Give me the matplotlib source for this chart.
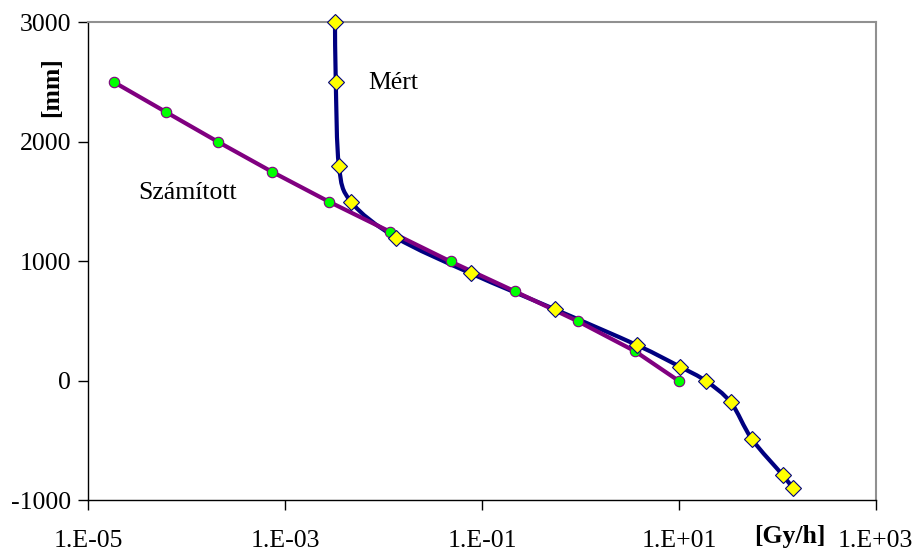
import numpy as np
import matplotlib.pyplot as plt
from matplotlib.path import Path
from matplotlib.patches import PathPatch

plt.rcParams['font.family'] = ['Liberation Serif', 'DejaVu Serif']
plt.rcParams['axes.unicode_minus'] = False

# measured (Mért)
mert_dose = [0.00322, 0.00328, 0.00353, 0.00468, 0.0134, 0.0773, 0.55, 3.75,
             10.2, 18.8, 33.7, 55, 114, 143]
mert_depth = [3000, 2500, 1800, 1500, 1200, 900, 600, 300,
              120, 0, -180, -485, -790, -895]

# calculated (Számított)
szam_dose = [1.84e-5, 6.2e-5, 2.1e-4, 7.4e-4, 2.8e-3, 0.0116, 0.048,
             0.216, 0.94, 3.57, 10.0]
szam_depth = [2500, 2250, 2000, 1750, 1500, 1250, 1000, 750, 500, 250, 0]

xticks = [1e-5, 1e-3, 1e-1, 1e1, 1e3]
xticklabels = ['1.E-05', '1.E-03', '1.E-01', '1.E+01', '1.E+03']
yticks = [-1000, 0, 1000, 2000, 3000]


def smooth_path(xs, ys):
    # Catmull-Rom style bezier (like Excel smoothed line), built in log-x space
    lx = np.log10(xs)
    y = np.array(ys, dtype=float)
    n = len(lx)
    verts = [(xs[0], ys[0])]
    codes = [Path.MOVETO]
    for i in range(n - 1):
        p0 = max(i - 1, 0)
        p3 = min(i + 2, n - 1)
        c1x = lx[i] + (lx[i + 1] - lx[p0]) / 6
        c1y = y[i] + (y[i + 1] - y[p0]) / 6
        c2x = lx[i + 1] - (lx[p3] - lx[i]) / 6
        c2y = y[i + 1] - (y[p3] - y[i]) / 6
        verts += [(10 ** c1x, c1y), (10 ** c2x, c2y), (xs[i + 1], ys[i + 1])]
        codes += [Path.CURVE4] * 3
    return Path(verts, codes)


fig = plt.figure(figsize=(9.15, 5.51), dpi=100)
ax = fig.add_axes([0.0962, 0.0917, 0.861, 0.8675])
ax.set_xscale('log')
ax.set_xlim(1e-5, 1e3)
ax.set_ylim(-1000, 3000)

ax.add_patch(PathPatch(smooth_path(mert_dose, mert_depth), facecolor='none',
                       edgecolor='#000080', lw=3, zorder=3, clip_on=False))
ax.plot(mert_dose, mert_depth, linestyle='none', marker='D', ms=7.8,
        mfc='#ffff00', mec='#000080', mew=0.8, zorder=5, clip_on=False)

ax.plot(szam_dose, szam_depth, color='#800080', lw=3, marker='o', ms=7.5,
        mfc='#00ff00', mec='#800080', mew=0.8, zorder=4, clip_on=False)

ax.set_xticks(xticks)
ax.set_xticklabels(xticklabels)
ax.minorticks_off()
ax.set_yticks(yticks)
ax.tick_params(direction='out', length=7, width=1, labelsize=18.5, color='black')
ax.tick_params(axis='x', pad=14)
ax.tick_params(axis='y', pad=5)

for s in ['top', 'right']:
    ax.spines[s].set_color('#909090')
    ax.spines[s].set_linewidth(1.5)
for s in ['left', 'bottom']:
    ax.spines[s].set_color('black')
    ax.spines[s].set_linewidth(1)

fig.text(52 / 915, 1 - 87 / 551, '[mm]', rotation=90, fontsize=18.5,
         fontweight='bold', ha='center', va='center')
fig.text(790 / 915, 1 - 537 / 551, '[Gy/h]', fontsize=18.5,
         fontweight='bold', ha='center', va='center')
fig.text(368 / 915, 1 - 83 / 551, 'Mért', fontsize=18.5, ha='left', va='center')
fig.text(138 / 915, 1 - 193 / 551, 'Számított', fontsize=18.5, ha='left', va='center')

fig.savefig('out.png', dpi=100)
